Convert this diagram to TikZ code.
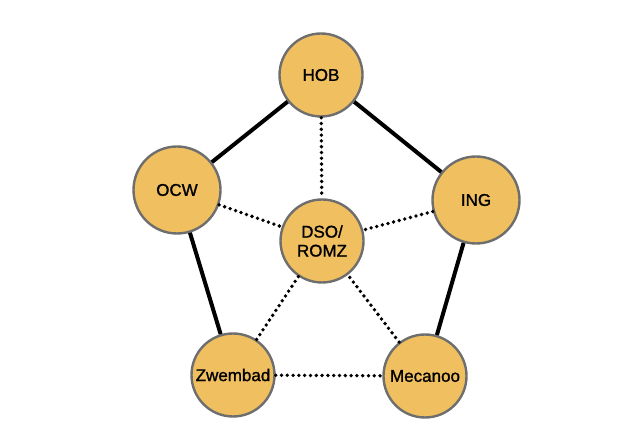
\documentclass[tikz,border=0pt]{standalone}
\usepackage{fontspec}
\setmainfont{Liberation Sans}
\newfontfamily\partyfont{Liberation Sans}[RawFeature={embolden=1.2}]
\usetikzlibrary{positioning}
\usepackage{xcolor}
\definecolor{partyfill}{RGB}{240,191,96}
\definecolor{partyline}{RGB}{110,110,110}
\tikzset{
  party/.style = {draw=partyline, circle, fill=partyfill, line width=2.4pt,
                  minimum size=83pt, inner sep=0pt, align=center,
                  font=\partyfont\fontsize{17}{19}\selectfont},
  tie/.style   = {line width=4pt, draw=black},
  loose/.style = {line width=3.8pt, draw=black, line cap=round,
                  dash pattern=on 0pt off 5.8pt}
}
\begin{document}
\begin{tikzpicture}[x=1pt, y=-1pt]
\useasboundingbox (0,0) rectangle (640,427);

% partners
\node[party] at (321, 75)  (hob)     {HOB};
\node[party, minimum size=87pt] at (177,190) (ocw) {OCW};
\node[party, minimum size=87pt] at (476,200) (ing) {ING};
\node[party] at (322,241)  (dso)     {DSO/\\ROMZ};
\node[party] at (233,375)  (zwembad) {Zwembad};
\node[party] at (425,376)  (mecanoo) {Mecanoo};

% direct ties
\draw[tie] (hob) -- (ocw);
\draw[tie] (hob) -- (ing);
\draw[tie] (ocw) -- (zwembad);
\draw[tie] (ing) -- (mecanoo);

% loose ties
\draw[loose] (hob) -- (dso);
\draw[loose] (ocw) -- (dso);
\draw[loose] (ing) -- (dso);
\draw[loose] (zwembad) -- (dso);
\draw[loose] (mecanoo) -- (dso);
\draw[loose] (zwembad) -- (mecanoo);
\end{tikzpicture}
\end{document}
